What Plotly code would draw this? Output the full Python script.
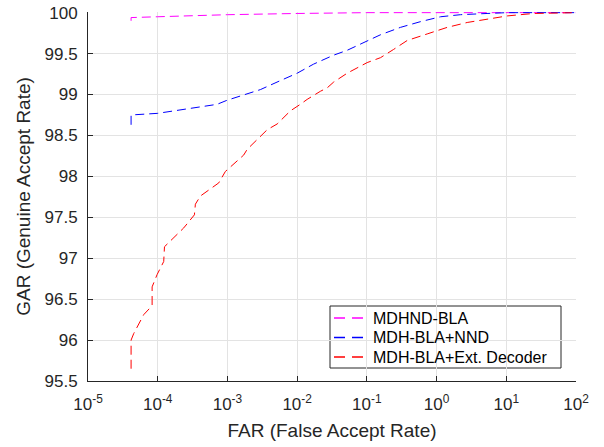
import plotly.graph_objects as go

# FAR (%) / GAR (%) values
far_mdhnd = [4.15e-5, 4.15e-5, 1e-4, 1e-3, 0.01, 0.1, 100]
gar_mdhnd = [99.90, 99.94, 99.95, 99.975, 99.99, 100, 100]

far_nnd = [4.15e-5, 4.15e-5, 1e-4, 2.12e-4, 7.1e-4, 9.9e-4, 2.97e-3, 5.75e-3, 0.01, 0.0171,
           0.0332, 0.0521, 0.101, 0.157, 0.303, 0.587, 1.14, 2.2, 5.3, 10.3, 100]
gar_nnd = [98.63, 98.75, 98.77, 98.81, 98.88, 98.93, 99.06, 99.17, 99.26, 99.37,
           99.48, 99.54, 99.66, 99.73, 99.82, 99.89, 99.95, 99.975, 99.99, 100, 100]

far_ext = [4.15e-5, 4.15e-5, 4.53e-5, 6.29e-5, 8.31e-5, 8.31e-5, 9.8e-5, 1.22e-4, 1.25e-4, 1.52e-4,
           2.36e-4, 3.36e-4, 3.47e-4, 4.1e-4, 7.5e-4, 9.35e-4, 1.71e-3, 1.92e-3, 3.72e-3, 5.17e-3,
           8.0e-3, 0.0111, 0.0139, 0.0216, 0.0269, 0.0332, 0.0521, 0.101, 0.157, 0.241,
           0.379, 0.733, 1.42, 2.75, 5.3, 10.3, 24.6, 60, 100]
gar_ext = [95.65, 96.00, 96.08, 96.31, 96.42, 96.65, 96.80, 96.96, 97.14, 97.21,
           97.37, 97.53, 97.66, 97.76, 97.92, 98.06, 98.26, 98.33, 98.57, 98.64,
           98.80, 98.88, 98.94, 99.04, 99.08, 99.15, 99.26, 99.39, 99.45, 99.55,
           99.66, 99.74, 99.82, 99.88, 99.92, 99.96, 99.99, 100, 100]

x_tickvals = [1e-5, 1e-4, 1e-3, 1e-2, 1e-1, 1e0, 1e1, 1e2]
x_ticktext = ["10<sup>-5</sup>", "10<sup>-4</sup>", "10<sup>-3</sup>", "10<sup>-2</sup>",
              "10<sup>-1</sup>", "10<sup>0</sup>", "10<sup>1</sup>", "10<sup>2</sup>"]
y_tickvals = [95.5, 96, 96.5, 97, 97.5, 98, 98.5, 99, 99.5, 100]
y_ticktext = ["95.5", "96", "96.5", "97", "97.5", "98", "98.5", "99", "99.5", "100"]

names = ["MDHND-BLA", "MDH-BLA+NND", "MDH-BLA+Ext. Decoder"]
fars = [far_mdhnd, far_nnd, far_ext]
gars = [gar_mdhnd, gar_nnd, gar_ext]
colors = ["#ff00ff", "#0000ff", "#ff0000"]

W, H = 604, 447
ML, MR, MT, MB = 88, 28, 12, 66
PW, PH = W - ML - MR, H - MT - MB
DASH = "9px,5px"
axcol = "#262626"


def fx(px):
    return (px - ML) / PW


def fy(py):
    return (H - MB - py) / PH


fig = go.Figure()
for name, x, y, c in zip(names, fars, gars, colors):
    fig.add_trace(go.Scatter(x=x, y=y, mode="lines", name=name, showlegend=False,
                             line=dict(color=c, width=1, dash=DASH)))

# custom legend: box (shape), dashed samples (traces on a hidden overlay axis), labels
shapes = [dict(type="rect", xref="paper", yref="paper",
               x0=fx(330), x1=fx(561), y0=fy(368), y1=fy(306),
               line=dict(color=axcol, width=1), fillcolor="white", layer="between")]
annotations = []
row_y = [318, 337.5, 357]
for name, c, ry in zip(names, colors, row_y):
    fig.add_trace(go.Scatter(x=[fx(334), fx(364)], y=[fy(ry), fy(ry)], mode="lines",
                             xaxis="x2", yaxis="y2", showlegend=False, hoverinfo="skip",
                             line=dict(color=c, width=1.5, dash="11px,7px")))
    annotations.append(dict(text=name, xref="paper", yref="paper", x=fx(371), y=fy(ry),
                            xanchor="left", yanchor="middle", showarrow=False,
                            font=dict(size=16, color="black")))

fig.update_layout(
    width=W, height=H,
    paper_bgcolor="white", plot_bgcolor="white",
    margin=dict(l=ML, r=MR, t=MT, b=MB),
    font=dict(family="Liberation Sans, Arial, sans-serif", size=17, color=axcol),
    xaxis=dict(type="log", range=[-5, 2], tickvals=x_tickvals, ticktext=x_ticktext,
               automargin=False,
               showgrid=True, gridcolor="#e3e3e3", gridwidth=1,
               showline=True, linecolor=axcol, linewidth=1,
               ticks="inside", ticklen=5, tickcolor=axcol, zeroline=False,
               tickfont=dict(size=17, color=axcol), ticklabelstandoff=8,
               title=dict(text="FAR (False Accept Rate)", font=dict(size=19, color=axcol), standoff=10)),
    yaxis=dict(range=[95.5, 100.008], tickvals=y_tickvals, ticktext=y_ticktext,
               automargin=False,
               showgrid=True, gridcolor="#e3e3e3", gridwidth=1,
               showline=True, linecolor=axcol, linewidth=1,
               ticks="inside", ticklen=5, tickcolor=axcol, zeroline=False,
               tickfont=dict(size=17, color=axcol), ticklabelstandoff=6,
               title=dict(text="GAR (Genuine Accept Rate)", font=dict(size=19, color=axcol), standoff=8)),
    xaxis2=dict(overlaying="x", range=[0, 1], visible=False, automargin=False),
    yaxis2=dict(overlaying="y", range=[0, 1], visible=False, automargin=False),
    shapes=shapes,
    annotations=annotations,
    showlegend=False,
)

fig.write_html("out.html", config={"displayModeBar": False},
               post_script="document.body.style.margin='0';document.body.style.padding='0';")
